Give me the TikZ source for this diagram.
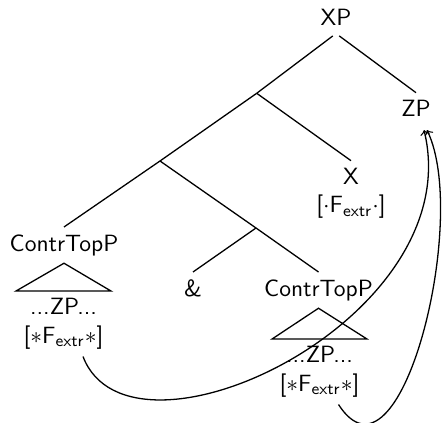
\documentclass[tikz,border=0pt]{standalone}
\usepackage{amsmath}
\usetikzlibrary{calc}
\begin{document}
\begin{tikzpicture}[x=0.425pt,y=-0.425pt,
  lbl/.style={font=\sffamily, inner sep=3pt},
  stack/.style={lbl, align=center},
  branch/.style={line width=0.55pt},
  mv/.style={->, line width=0.55pt}]
\useasboundingbox (0,0) rectangle (443,423);
% labels
\node[lbl, anchor=base] (XP) at (336,26) {XP};
\node[lbl, anchor=north] (ZP) at (416,92.7) {ZP};
\node[stack, anchor=north] (X) at (351,160.7) {X\\{}[$\cdot$F$_{\text{extr}}$$\cdot$]};
\node[lbl, anchor=north] (C1) at (64,227) {ContrTopP};
\node[lbl, anchor=north] (amp) at (193,272) {\&};
\node[lbl, anchor=north] (C2) at (318.5,272) {ContrTopP};
\node[stack, anchor=north] (Z1) at (63.5,291) {...ZP...\\{}[$\ast$F$_{\text{extr}}$$\ast$]};
\node[stack, anchor=north] (Z2) at (319.5,339) {...ZP...\\{}[$\ast$F$_{\text{extr}}$$\ast$]};
% inner branching points
\coordinate (A) at (256.7,93.3);
\coordinate (B) at (160,161);
\coordinate (C) at (256,228);
% tree
\draw[branch, shorten <=1.7pt] (XP.south) -- (A);
\draw[branch, shorten <=1.7pt] (XP.south) -- (ZP.north);
\draw[branch] (A) -- (B);
\draw[branch] (A) -- (X.north);
\draw[branch] (B) -- (C1.north);
\draw[branch] (B) -- (C);
\draw[branch] (C) -- (amp.north);
\draw[branch] (C) -- (C2.north);
% roofs
\draw[branch] (C1.south) -- (Z1.north west) -- (Z1.north east) -- cycle;
\draw[branch] (C2.south) -- (Z2.north west) -- (Z2.north east) -- cycle;
% movement arrows
\draw[mv] ($(Z1.south)+(19.5,0)$) .. controls (130,480) and (470,320) .. ($(ZP.south)+(8,6)$);
\draw[mv] ($(Z2.south)+(19,0)$) .. controls (400,500) and (470,220) .. ($(ZP.south)+(11,6)$);
\end{tikzpicture}
\end{document}
